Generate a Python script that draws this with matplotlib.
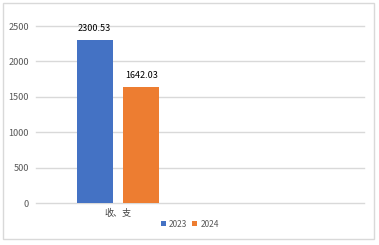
import matplotlib
matplotlib.use("Agg")
import matplotlib.pyplot as plt
from matplotlib.patches import Rectangle

plt.rcParams['font.family'] = ['Noto Sans CJK SC', 'DejaVu Sans']

categories = ["收、支", ""]
series_names = ["2023", "2024"]
values_2023 = [2300.53]
values_2024 = [1642.03]
labels_2023 = ["2300.53"]
labels_2024 = ["1642.03"]
yticks = [0, 500, 1000, 1500, 2000, 2500]
colors = ["#4472C4", "#ED7D31"]

fig = plt.figure(figsize=(3.79, 2.45), dpi=100)
fig.patches.append(Rectangle((3/379, 6/245), 371/379, 236/245, transform=fig.transFigure,
                             fill=False, edgecolor="#d9d9d9", linewidth=1))
ax = fig.add_axes([36/379, 42/245, 328/379, 177/245])

w = 0.22
off = 0.142
x0 = list(range(len(values_2023)))
b1 = ax.bar([x - off for x in x0], values_2023, width=w, color=colors[0], label=series_names[0], zorder=3)
b2 = ax.bar([x + off for x in x0], values_2024, width=w, color=colors[1], label=series_names[1], zorder=3)
for rect, lab in zip(b1, labels_2023):
    ax.text(rect.get_x() + rect.get_width()/2, rect.get_height() + 95, lab,
            ha="center", va="bottom", fontsize=6.5, color="#000000")
for rect, lab in zip(b2, labels_2024):
    ax.text(rect.get_x() + rect.get_width()/2, rect.get_height() + 95, lab,
            ha="center", va="bottom", fontsize=6.5, color="#000000")

ax.set_xlim(-0.5, 1.5)
ax.set_ylim(0, 2500)
ax.set_yticks(yticks)
ax.set_yticklabels([str(t) for t in yticks], fontsize=6.6, color="#595959")
ax.set_xticks(range(len(categories)))
ax.set_xticklabels(categories, fontsize=6.5, color="#404040")
ax.tick_params(axis="both", length=0, pad=4)
ax.tick_params(axis="y", pad=5)
ax.grid(axis="y", color="#d9d9d9", linewidth=1, zorder=0)
for ln in ax.get_ygridlines():
    ln.set_clip_on(False)
for s in ax.spines.values():
    s.set_visible(False)

leg = fig.legend(handles=[b1, b2], labels=series_names, loc="center",
                 bbox_to_anchor=(190/379, 1 - 224/245), ncol=2, frameon=False,
                 fontsize=6, handlelength=0.6, handleheight=0.6, handletextpad=0.4,
                 columnspacing=0.6, borderaxespad=0)
for t in leg.get_texts():
    t.set_color("#595959")

fig.savefig("out.png", dpi=100)
